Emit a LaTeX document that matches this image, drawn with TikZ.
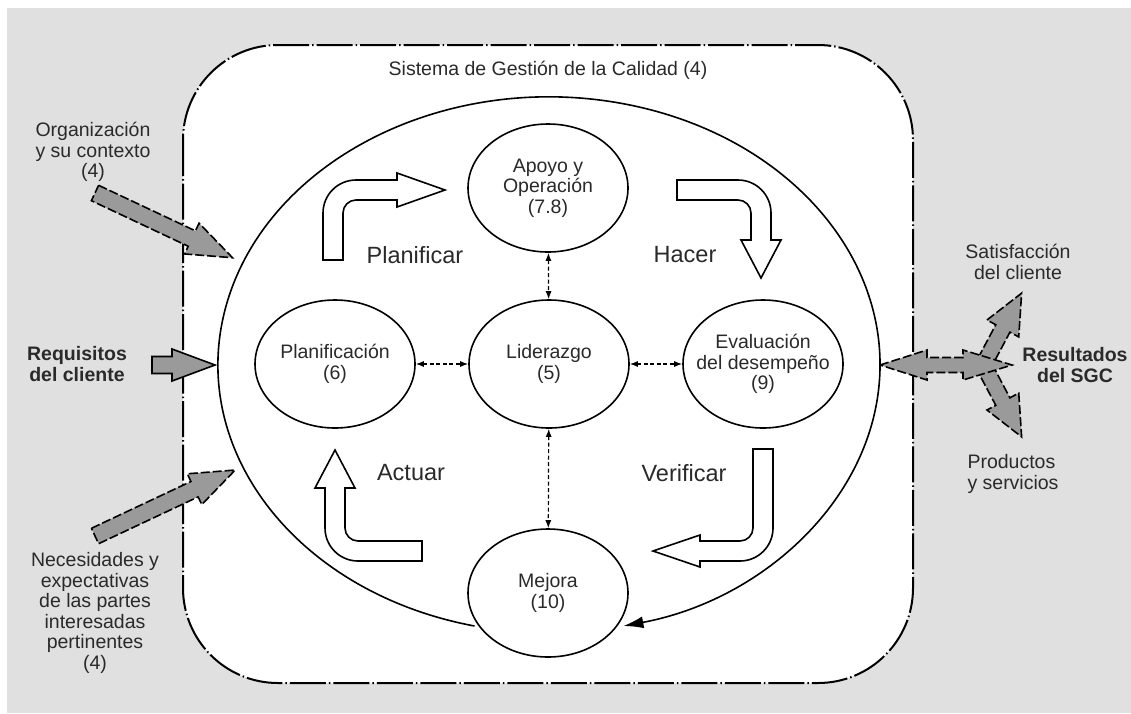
\documentclass[tikz,border=0pt]{standalone}
\usepackage{fontspec}
\setmainfont{Liberation Sans}
\usetikzlibrary{arrows.meta,shapes.geometric}
\definecolor{bg}{HTML}{E0E0E0}
\definecolor{garrow}{HTML}{9A9A9A}
\definecolor{txtc}{HTML}{2A2A2A}
\begin{document}
\begin{tikzpicture}[x=1pt,y=-1pt,
  circ/.style={ellipse, draw, line width=1.6pt, minimum width=160pt, minimum height=128pt, inner sep=0pt, fill=white},
  txt/.style={align=center, text=txtc, font=\fontsize{19.5}{20.5}\selectfont, inner sep=0pt},
  btxt/.style={align=center, text=txtc, font=\fontsize{19.5}{20.5}\selectfont\bfseries, inner sep=0pt},
  ptxt/.style={text=txtc, font=\fontsize{23.5}{26}\selectfont, inner sep=0pt},
  sysbox/.style={draw, fill=white, line width=2pt, rounded corners=95pt, dash pattern=on 36pt off 3pt on 1.5pt off 3pt},
  pdca/.style={draw, line width=1.6pt, fill=white, line join=miter},
  garr/.style={draw, fill=garrow, line width=1.6pt, dash pattern=on 9pt off 3pt, line join=miter},
  garrsolid/.style={draw, fill=garrow, line width=1.6pt, line join=miter},
  conn/.style={dash pattern=on 4pt off 2.5pt, line width=1.2pt, {Latex[length=8pt,width=6pt]}-{Latex[length=8pt,width=6pt]}}
]
\useasboundingbox (0,0) rectangle (1131,713);
\fill[white] (0,0) rectangle (1131,713);
\fill[bg] (7,8) rectangle (1131,713);

% system box
\draw[sysbox] (183,45) rectangle (913,683);
\node[txt] (title) at (548,70) {Sistema de Gestión de la Calidad (4)};

% big cycle
\draw[line width=1.6pt, -{Latex[length=20pt,width=12pt]}] (474.5,626) arc[start angle=103, end angle=437, x radius=331, y radius=268];

% process nodes
\node[circ] (apoyo) at (548,188) {};
\node[txt] at (apoyo) {Apoyo y\\Operación\\(7.8)};
\node[circ] (plan) at (335,364) {};
\node[txt] at (plan) {Planificación\\(6)};
\node[circ] (lid) at (549,364) {};
\node[txt] at (lid) {Liderazgo\\(5)};
\node[circ] (eval) at (763,364) {};
\node[txt] at (eval) {Evaluación\\del desempeño\\(9)};
\node[circ] (mejora) at (548,593) {};
\node[txt] at (mejora) {Mejora\\(10)};

% dashed connectors
\draw[conn] (plan) -- (lid);
\draw[conn] (lid) -- (eval);
\draw[conn] (apoyo) -- (lid);
\draw[conn] (lid) -- (mejora);

% PDCA block arrows
% Planificar
\draw[pdca] (323,260) -- (323,213) arc[start angle=180, end angle=270, radius=33] -- (397,180) -- (397,173) -- (445,190) -- (397,207) -- (397,200) -- (356,200) arc[start angle=270, end angle=180, radius=13] -- (343,260) -- cycle;
% Hacer
\draw[pdca] (677,180) -- (738,180) arc[start angle=270, end angle=360, radius=33] -- (771,240) -- (781,240) -- (761,278) -- (741,240) -- (751,240) -- (751,213) arc[start angle=360, end angle=270, radius=13] -- (677,200) -- cycle;
% Verificar
\draw[pdca] (753,449) -- (773,449) -- (773,528) arc[start angle=0, end angle=90, radius=33] -- (700,561) -- (700,567) -- (653,551) -- (700,535) -- (700,541) -- (740,541) arc[start angle=90, end angle=0, radius=13] -- cycle;
% Actuar
\draw[pdca] (422,541) -- (358,541) arc[start angle=90, end angle=180, radius=13] -- (345,488) -- (355,488) -- (335,450) -- (315,488) -- (325,488) -- (325,528) arc[start angle=180, end angle=90, radius=33] -- (422,561) -- cycle;

\node[ptxt] (lplan) at (415,255) {Planificar};
\node[ptxt] (lhacer) at (685,255) {Hacer};
\node[ptxt] (lact) at (411,473) {Actuar};
\node[ptxt] (lver) at (684,473) {Verificar};

% inputs
\node[txt] (org) at (93,152) {Organización\\y su contexto\\(4)};
\draw[garr, shift={(95,193)}, rotate=-25.2] (0,-8.5) -- (107,-8.5) -- (107,-17) -- (152,0) -- (107,17) -- (107,8.5) -- (0,8.5) -- cycle;

\node[btxt] (req) at (77,364) {Requisitos\\del cliente};
\draw[garrsolid, shift={(152,365)}] (0,-8.5) -- (20,-8.5) -- (20,-16) -- (63,0) -- (20,16) -- (20,8.5) -- (0,8.5) -- cycle;

\node[txt] (nec) at (95,613) {Necesidades y\\expectativas\\de las partes\\interesadas\\pertinentes\\(4)};
\draw[garr, shift={(95,536)}, rotate=25.2] (0,-8.5) -- (110,-8.5) -- (110,-17) -- (155,0) -- (110,17) -- (110,8.5) -- (0,8.5) -- cycle;

% outputs
\draw[garr, shift={(985,362)}, rotate=62] (0,-8) -- (38,-8) -- (38,-18) -- (78,0) -- (38,18) -- (38,8) -- (0,8) -- cycle;
\draw[garr, shift={(985,368)}, rotate=-62] (0,-8) -- (38,-8) -- (38,-18) -- (78,0) -- (38,18) -- (38,8) -- (0,8) -- cycle;
\draw[garr] (880,365) -- (927,350) -- (927,357.5) -- (963,357.5) -- (963,350) -- (1012,365) -- (963,380) -- (963,372.5) -- (927,372.5) -- (927,380) -- cycle;

\node[txt] (sat) at (1018,262) {Satisfacción\\del cliente};
\node[btxt] (res) at (1075,365) {Resultados\\del SGC};
\node[txt, align=left] (prod) at (1013,474) {Productos\\y servicios};
\end{tikzpicture}
\end{document}
